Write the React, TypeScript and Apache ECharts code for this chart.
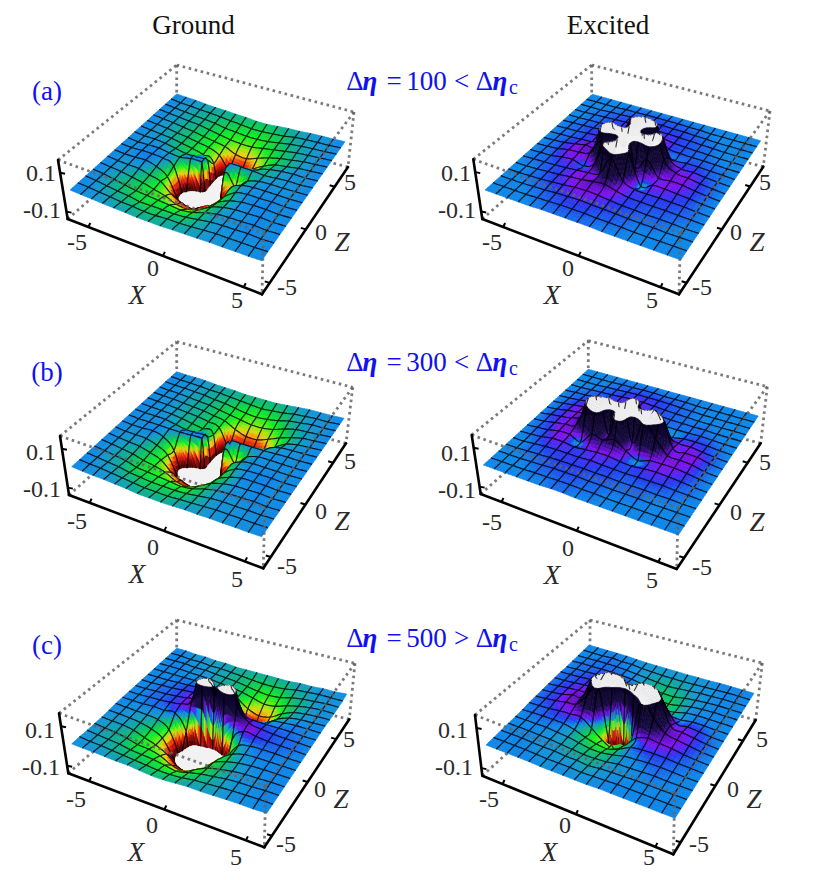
import React, { useEffect, useRef } from "react";
import * as echarts from "echarts";

// Heights in units of 0.01; rows run Z = +5 (back) to Z = -5 (front), columns X = -5 to +5.
// Values past +-16 lie beyond the clipped plot range, where the surface is capped.
const GROUND_A = [
[0,-.3,-.5,-1,-1.3,-1.5,-1.8,-2,-2.5,-2.5,-2,-1.5,-1.3,-.8,-.5,-.3,0],
[0,-.5,-.8,-1.2,-1.5,-2,-2.5,-3,-3.5,-3.5,-3,-2.5,-1.5,-1,-.7,-.5,0],
[0,-.5,-1,-1.5,-2,-2.5,-3.5,-4,-4.5,-4.5,-4,-3,-2,-1.3,-.8,-.5,0],
[0,-.5,-1,-1.5,-2,-3,-4,-5,-5.5,-5.5,-4.5,-3.5,-2.5,-1.5,-1,-.5,0],
[0,-.5,-1,-1.8,-2.5,-3.5,-4.5,-5.5,-8,-8.5,-6.5,-4.5,-3,-2,-1,-.5,0],
[0,-.5,-1,-1.8,-2.5,-3.5,-4.5,-7,-14,-13,-9,-5.5,-3,-2,-1,-.5,0],
[0,-.5,-1,-1.5,-2.5,-3.5,-5,-8,-50,-18,-10,-4,-2,-1,-.5,-.5,0],
[0,-.5,-.5,-1,-2,-3,-3,-3,-60,-1,-1,-1,-1.5,-1,-.5,-.5,0],
[0,-.5,-.3,-.3,-1,-1.5,-.5,-.5,-60,-3,-8,-3,-1,-.5,-.5,-.3,0],
[0,-.3,0,0,-.5,-3,-20,-80,-80,-22,-5.5,-1.5,-.5,-.3,-.3,-.3,0],
[0,-.3,-.3,0,-1.5,-5,-16,-25,-17,-13,-6,-1.5,-.3,-.3,0,-.3,0],
[0,-.5,-.8,-1,-2.5,-4,-9,-12,-13,-10,-5,-2,-.5,0,0,-.3,0],
[0,-.5,-1,-2,-3,-4.5,-6,-8.5,-9,-7,-3.5,-1.5,-.5,-.3,0,-.3,0],
[0,-.5,-1.5,-2.5,-3.5,-4,-4.5,-5,-5.5,-4.5,-2.5,-1,-.5,-.3,0,-.3,0],
[0,-.5,-1.2,-2,-2.5,-3.5,-3.5,-3.5,-3.5,-3,-2,-1,-.5,-.3,0,-.3,0],
[0,-.3,-.8,-1.2,-1.8,-2,-2.5,-2.5,-2,-2,-1.5,-1,-.5,-.5,-.3,-.3,0],
[0,-.3,-.5,-.8,-1,-1.2,-1.5,-1.5,-1.5,-1.2,-1,-.8,-.5,-.5,-.3,-.3,0],
];
const EXCITED_A = [
[0,0,0,0,0,0,0,0,0,0,0,0,0,0,0,0,0],
[0,0,0,0,.3,.3,.5,.5,.5,.5,.3,.3,0,0,0,0,0],
[0,0,0,.3,.5,.8,.8,1,1,.8,.8,.5,.3,0,0,0,0],
[0,0,.3,.5,.8,1,1.2,1.2,1.2,1.2,1,.8,.5,.3,0,0,0],
[0,0,.3,.5,1,1.2,1.5,1.8,2.5,2,1.2,.8,.5,.3,0,0,0],
[0,.3,.5,.8,1.2,1.5,2,4,10,6,1.5,.8,.5,.5,.3,0,0],
[0,.3,.5,1,1.5,2,5,15,30,24,3,.5,.8,.8,.5,.3,0],
[0,.3,.5,1,1.5,4,12,4,30,4,20,5,1.5,1.5,.8,.3,0],
[0,.3,.8,1.8,3,5,30,30,18,30,30,8,3,2.2,1.2,.5,0],
[0,.3,.8,2,2.5,4,12,4,30,4,10,2.2,2.5,2.2,1.2,.5,0],
[0,.3,.5,1.5,2,.5,4,20,30,15,-.5,2,2,1.5,1,.3,0],
[0,.3,.5,.8,1.2,1.8,2.5,4,14,4,1.5,1.2,1.2,1,.8,.3,0],
[0,0,.3,.8,1.2,2,2.5,3.5,4,2.5,1.2,1,.8,.8,.5,.3,0],
[0,0,.3,.5,1,1.5,2.2,2.5,2.2,1.5,1,.8,.5,.5,.3,0,0],
[0,0,0,.3,.5,1,1.2,1.5,1.2,1,.8,.5,.3,.3,0,0,0],
[0,0,0,0,.3,.5,.8,.8,.8,.5,.5,.3,0,0,0,0,0],
[0,0,0,0,0,.3,.3,.3,.3,.3,0,0,0,0,0,0,0],
];
const GROUND_B = [
[0,-.3,-.3,-.5,-1,-1.3,-1.5,-2,-2,-2,-2,-1.5,-1,-.5,-.5,-.3,0],
[0,-.3,-.5,-.8,-1.2,-1.5,-2,-2.5,-3,-3.5,-3,-2.5,-1.5,-1,-.5,-.5,0],
[0,-.3,-.5,-.8,-1.2,-2,-2.5,-3.5,-4.5,-5,-4.5,-3.5,-2,-1.3,-.5,-.5,0],
[0,-.3,-.5,-1,-1.5,-2,-3,-4,-5,-6,-6,-5,-3,-1.5,-1,-.5,0],
[0,-.3,-.5,-1,-1.5,-2,-3,-4,-7,-9,-9,-7,-4.5,-2.5,-1,-.5,0],
[0,-.3,-.5,-1,-1.5,-2,-3,-4.5,-15,-15,-13,-10,-6,-2.5,-1,-.5,0],
[0,-.3,-.5,-.8,-1.5,-2.5,-3.5,-5,-50,-26,-18,-9,-3,-1,-.5,-.3,0],
[0,-.3,-.3,-.5,-1.5,-2.5,-2.5,-3,-60,-3,-1,-.8,-.8,-.5,-.3,-.3,0],
[0,-.3,-.3,-.3,-.5,-.5,-.3,-.3,-60,-3,-8,-2.5,-.5,-.3,-.3,-.3,0],
[0,-.3,-.3,0,-1.5,-7,-24,-80,-80,-24,-6,-1.5,-.3,-.3,-.3,-.3,0],
[0,-.5,-.5,-.8,-2.5,-6,-17,-30,-20,-15,-6,-1.5,-.3,0,0,-.3,0],
[0,-.5,-1,-1.5,-3,-5,-10,-13,-14,-11,-5,-2,-.3,0,0,-.3,0],
[0,-.5,-1.2,-2,-3.5,-4.5,-6,-9,-9.5,-7,-3.5,-1.5,-.5,-.3,0,-.3,0],
[0,-.5,-1.2,-2,-3.5,-4,-4.5,-5,-5.5,-4.5,-2.5,-1,-.5,-.3,0,-.3,0],
[0,-.5,-1,-1.5,-2.5,-3,-3.5,-3.5,-3.5,-3,-2,-1,-.5,-.5,-.3,-.3,0],
[0,-.3,-.5,-1,-1.5,-2,-2.5,-2.5,-2.5,-2,-1.5,-1,-.5,-.5,-.3,-.3,0],
[0,-.3,-.5,-.5,-.8,-1,-1.5,-1.5,-1.5,-1.2,-.8,-.8,-.5,-.5,-.3,-.3,0],
];
const EXCITED_B = [
[0,0,0,0,0,0,0,0,0,0,0,0,0,0,0,0,0],
[0,0,0,0,.3,.3,.5,.5,.3,.3,.3,0,0,0,0,0,0],
[0,0,0,.3,.5,.8,1,1,1,.8,.5,.3,0,0,0,0,0],
[0,0,.3,.5,.8,1.2,1.5,1.5,1.2,.8,.5,.3,0,0,0,0,0],
[0,.3,.5,.8,1.2,1.5,1.8,1.8,1.2,.8,.5,.3,.3,.3,0,0,0],
[0,.3,.8,1.5,2,2.2,2.2,2.2,1.8,.8,.3,.3,.3,.5,.3,0,0],
[0,.5,1.2,2,2.5,3,3.5,3.5,8,1,0,-.3,.8,1,.8,.3,0],
[0,.5,1.5,2.2,3,5,12,4,30,4,16,5,2,2,1.2,.5,0],
[0,.8,1.5,2.5,6,24,30,30,17,30,30,20,3,2.5,2.2,.8,0],
[0,.5,1.5,2.5,4,16.5,25,4,30,4,17,10,3,2.5,2,.5,0],
[0,.5,1,2.2,2.2,0,6,5,7,3,0,2,2.2,2.2,1.5,.5,0],
[0,.3,.8,1.8,1.8,1,1.5,2,2,1.2,.8,1.5,1.8,1.5,1,.3,0],
[0,0,.5,1,1.2,1.2,1.2,1.5,1.2,1,.8,1,1,1,.5,.3,0],
[0,0,.3,.5,.8,1,1,1,.8,.8,.5,.5,.5,.3,.3,0,0],
[0,0,0,.3,.5,.8,.8,.8,.5,.5,.3,.3,.3,0,0,0,0],
[0,0,0,0,.3,.3,.5,.5,.3,.3,0,0,0,0,0,0,0],
[0,0,0,0,0,0,.3,.3,0,0,0,0,0,0,0,0,0],
];
const GROUND_C = [
[0,0,-.5,-.5,-1,-1,-1.5,-1.5,-1.5,-1.5,-1.5,-1.5,-1,-1,-.5,-.5,0],
[0,0,-.5,-.5,-1,-1,-1.5,-2,-2.5,-3,-3,-2.5,-1.5,-1,-.5,-.5,-.5],
[0,0,0,-.5,-.5,-1,-1.5,-2,-3,-4,-4.5,-4,-2.5,-1.5,-1,-.5,-.5],
[0,0,0,-.3,-.5,-.8,-1.5,-2,-3,-4.5,-6,-5.5,-3.5,-2,-1,-.5,-.5],
[0,0,0,0,0,-.3,-.8,-1.5,-3,-7,-9,-8,-4.5,-2,-1,-.5,-.3],
[0,0,0,.3,.5,.8,.8,0,-3,-12,-13,-9,-4,-1.5,-.5,-.3,0],
[0,0,.3,.5,1,1.5,2,3,1,-5,-14,-6,-1.5,-.5,0,0,0],
[0,0,.3,.5,1,1.8,4,14,6,14,2,.5,.3,.3,.3,0,0],
[0,0,.3,.5,1,2,6,30,12,30,10,3,1.5,.8,.5,.3,0],
[0,0,0,.3,0,.3,-8,-80,-80,-35,-5,2,1.5,.8,.5,.3,0],
[0,-.3,-.5,-.8,-1.5,-5,-18,-60,-60,-45,-12,-2,0,.3,.3,0,0],
[-.3,-.5,-.8,-1.5,-3,-6,-15,-25,-22,-16,-7,-2.5,-.5,0,0,0,0],
[-.5,-.8,-1,-2,-4,-6,-9,-14,-15,-11,-5,-2.5,-1,-.3,0,0,0],
[-.5,-1,-1.5,-2.5,-4,-4.5,-6,-9,-10,-7,-4,-2.5,-1.2,-.5,-.3,0,0],
[-.5,-1,-1.5,-2,-3,-3.5,-4,-5,-6,-4.5,-3,-2,-1,-.5,-.3,0,0],
[-.3,-.8,-1,-1.5,-2,-2.5,-3,-3.5,-3.5,-3,-2,-1.5,-1,-.5,-.3,0,0],
[-.3,-.5,-.5,-.8,-1,-1,-1.5,-2,-2,-1.5,-1,-1,-.8,-.5,-.3,-.3,0],
];
const EXCITED_C = [
[0,0,0,0,0,-.3,-.5,-.5,-.5,-.5,-.5,-.3,-.3,0,0,0,0],
[0,0,0,.3,0,0,-.5,-.8,-1,-1,-1,-.8,-.5,-.3,0,0,0],
[0,0,.3,.3,.3,0,-.5,-1,-1.5,-2,-1.5,-1,-.5,-.3,0,0,0],
[0,.3,.3,.5,.5,.3,0,-.8,-2,-2.5,-2.5,-1.5,-.8,-.3,0,0,0],
[0,.3,.5,.8,1,1,.8,0,-1.5,-2.5,-3,-2,-.8,-.3,0,0,0],
[.3,.5,.8,1.2,1.5,2,2,1.5,.5,-1,-2.5,-2,-.5,0,0,0,0],
[.3,.5,1,1.5,2,2.5,5,5,5,5,3,0,-.5,.3,.3,0,0],
[.3,.8,1.5,2,3,10,20,20,10,20,20,10,1.5,1.5,1,.3,0],
[.3,.8,1.5,3,4,17,30,30,18,30,30,18,4,2.5,1.5,.5,0],
[.3,.8,1.5,2.5,3.5,10,17,-10,-100,-8,18,10,4,2.5,1.5,.5,0],
[.3,.5,.8,1.5,1.8,2,-2,-6.5,-9,-5,1,3,2.5,2,1,.3,0],
[0,.3,.5,.5,.3,-1,-3,-4.5,-5,-3,0,1,1.2,1,.5,.3,0],
[0,0,0,0,-.5,-1,-2,-3,-3,-2,-.5,0,.5,.5,.3,0,0],
[0,0,0,-.3,-.5,-1,-1.5,-2,-2,-1.5,-.5,-.3,0,.3,0,0,0],
[0,0,0,-.3,-.5,-.5,-1,-1,-1.5,-.8,-.5,-.3,0,0,0,0,0],
[0,0,0,0,-.3,-.5,-.5,-.5,-.8,-.5,-.3,0,0,0,0,0,0],
[0,0,0,0,0,-.3,-.3,-.3,-.3,-.3,0,0,0,0,0,0,0],
];

const COLUMN_TITLES = ["Ground", "Excited"];
const ROW_LABELS = ["(a)", "(b)", "(c)"];
const ETA_VALUES = ["100", "300", "500"];
const ETA_RELATIONS = ["<", "<", ">"];
const X_TICK_LABELS = ["-5", "0", "5"];
const Z_TICK_LABELS = ["-5", "0", "5"];
const H_TICK_LABELS = ["0.1", "-0.1"];

const CELLS = 16;
const LIMIT = 16;
const PX_PER_UNIT = 1.85;
const CAP_COLOR = "#f2f2f2";
const BLUE = "#1010f0";
const SERIF = "'Liberation Serif', 'Times New Roman', serif";

type P = [number, number];
type Panel = {
  grid: number[][];
  left: P; front: P; right: P; back: P;
  leftTop: P; backTop: P; rightTop: P; leftBottom: P; frontBottom: P; rightBottom: P;
  label: P;
};

const PANELS: Panel[] = [
  { grid: GROUND_A, left: [70, 190], front: [261.7, 260.7], right: [345, 141.7], back: [176.7, 94],
    leftTop: [58, 160], backTop: [176.7, 65], rightTop: [354, 112], leftBottom: [67.7, 219], frontBottom: [262, 294.3], rightBottom: [348, 167], label: [0, 0] },
  { grid: EXCITED_A, left: [485, 190], front: [680.7, 260], right: [760.7, 140.7], back: [592.3, 94.3],
    leftTop: [473.3, 159.3], backTop: [591.7, 65], rightTop: [770, 111], leftBottom: [482.3, 219], frontBottom: [679, 294.3], rightBottom: [763.3, 166.7], label: [415, 0] },
  { grid: GROUND_B, left: [71.7, 466.7], front: [261.7, 536.7], right: [344, 418.3], back: [176.7, 371.7],
    leftTop: [60, 436], backTop: [176.7, 341.7], rightTop: [352.7, 387.3], leftBottom: [69, 495], frontBottom: [263.3, 568.3], rightBottom: [346, 443.3], label: [0, 279] },
  { grid: EXCITED_B, left: [483.3, 465], front: [678.3, 535], right: [758.3, 416], back: [588.3, 369.3],
    leftTop: [471.7, 435], backTop: [588.3, 340.7], rightTop: [767.3, 386.7], leftBottom: [480.7, 494], frontBottom: [676.7, 569], rightBottom: [760.7, 443.3], label: [415, 280] },
  { grid: GROUND_C, left: [71.7, 743.3], front: [266.7, 813.3], right: [346.7, 694], back: [176.7, 648.3],
    leftTop: [59, 713.3], backTop: [176.7, 620], rightTop: [355, 663.3], leftBottom: [68.3, 773.3], frontBottom: [264.3, 847.3], rightBottom: [349.3, 719.3], label: [-1, 557] },
  { grid: EXCITED_C, left: [486, 745], front: [675, 818.3], right: [754, 693.3], back: [589, 645],
    leftTop: [475, 715], backTop: [590, 620], rightTop: [762.3, 663], leftBottom: [482.3, 775.7], frontBottom: [673.3, 854.3], rightBottom: [755.7, 720], label: [412, 557] },
];

// Height -> colour stops
const COLOR_STOPS: [number, number[]][] = [
  [-17, [16, 0, 0]],
  [-14.5, [90, 6, 6]],
  [-12, [205, 12, 12]],
  [-10, [240, 60, 12]],
  [-8, [240, 205, 16]],
  [-6.5, [160, 232, 16]],
  [-4.5, [16, 240, 32]],
  [-3, [14, 200, 90]],
  [-1.5, [14, 168, 160]],
  [-0.7, [20, 150, 208]],
  [0, [14, 134, 232]],
  [1, [36, 60, 240]],
  [2.2, [128, 16, 240]],
  [3.5, [84, 14, 180]],
  [6, [22, 10, 66]],
  [17, [10, 3, 32]],
];

function heightColor(h: number): string {
  if (h <= COLOR_STOPS[0][0]) h = COLOR_STOPS[0][0];
  for (let k = 1; k < COLOR_STOPS.length; k++) {
    const [h1, c1] = COLOR_STOPS[k];
    if (h <= h1) {
      const [h0, c0] = COLOR_STOPS[k - 1];
      const t = (h - h0) / (h1 - h0);
      return `rgb(${Math.round(c0[0] + (c1[0] - c0[0]) * t)},${Math.round(c0[1] + (c1[1] - c0[1]) * t)},${Math.round(c0[2] + (c1[2] - c0[2]) * t)})`;
    }
  }
  return "rgb(10,3,32)";
}

function homography(p0: P, p1: P, p2: P, p3: P) {
  const sx = p0[0] - p1[0] + p2[0] - p3[0];
  const sy = p0[1] - p1[1] + p2[1] - p3[1];
  const dx1 = p1[0] - p2[0], dx2 = p3[0] - p2[0], dy1 = p1[1] - p2[1], dy2 = p3[1] - p2[1];
  const den = dx1 * dy2 - dx2 * dy1;
  const g = (sx * dy2 - dx2 * sy) / den;
  const h = (dx1 * sy - sx * dy1) / den;
  const a = p1[0] - p0[0] + g * p1[0];
  const b = p3[0] - p0[0] + h * p3[0];
  const d = p1[1] - p0[1] + g * p1[1];
  const e = p3[1] - p0[1] + h * p3[1];
  return (u: number, v: number): P => {
    const w = g * u + h * v + 1;
    return [(a * u + b * v + p0[0]) / w, (d * u + e * v + p0[1]) / w];
  };
}

const cr = (a: number, b: number, c: number, d: number, t: number) =>
  0.5 * (2 * b + (c - a) * t + (2 * a - 5 * b + 4 * c - d) * t * t + (3 * b - a - 3 * c + d) * t * t * t);
const lim = (x: number) => Math.max(-35, Math.min(35, x));

function makeSampler(grid: number[][]) {
  const node = (i: number, j: number) => {
    const ii = Math.max(0, Math.min(CELLS, i));
    const jj = Math.max(0, Math.min(CELLS, j));
    return grid[CELLS - jj][ii] ?? 0;
  };
  const sample = (u: number, v: number) => {
    const i = Math.min(CELLS - 1, Math.floor(u));
    const j = Math.min(CELLS - 1, Math.floor(v));
    const tu = u - i, tv = v - j;
    const row = (jj: number) => cr(lim(node(i - 1, jj)), node(i, jj), node(i + 1, jj), lim(node(i + 2, jj)), tu);
    const value = cr(lim(row(j - 1)), row(j), row(j + 1), lim(row(j + 2)), tv);
    const c = [node(i, j), node(i + 1, j), node(i, j + 1), node(i + 1, j + 1)];
    return Math.max(Math.min(...c) - 0.3, Math.min(Math.max(...c) + 0.3, value));
  };
  return { node, sample };
}

type V3 = [number, number, number];
function clipPoly(poly: V3[], keep: number, sign: number): V3[] {
  const out: V3[] = [];
  for (let k = 0; k < poly.length; k++) {
    const a = poly[k], b = poly[(k + 1) % poly.length];
    const ia = sign * (a[2] - keep) >= 0, ib = sign * (b[2] - keep) >= 0;
    if (ia) out.push(a);
    if (ia !== ib) {
      const t = (keep - a[2]) / (b[2] - a[2]);
      out.push([a[0] + (b[0] - a[0]) * t, a[1] + (b[1] - a[1]) * t, keep]);
    }
  }
  return out;
}

function surfaceSeries(panel: Panel, index: number) {
  const map = homography(panel.left, panel.front, panel.right, panel.back);
  const { node, sample } = makeSampler(panel.grid);
  const data: number[][] = [];
  for (let j = CELLS - 1; j >= 0; j--) for (let i = 0; i < CELLS; i++) data.push([i, j]);

  const renderItem = (_: any, api: any) => {
    const i = api.value(0), j = api.value(1);
    const project = (p: V3) => {
      const q = map(p[0] / CELLS, p[1] / CELLS);
      return api.coord([q[0], q[1] - p[2] * PX_PER_UNIT]);
    };
    const rangeU = Math.max(Math.abs(node(i + 1, j) - node(i, j)), Math.abs(node(i + 1, j + 1) - node(i, j + 1)));
    const rangeV = Math.max(Math.abs(node(i, j + 1) - node(i, j)), Math.abs(node(i + 1, j + 1) - node(i + 1, j)));
    let near = 0;
    for (let a = -1; a <= 2; a++) for (let b = -1; b <= 2; b++) near = Math.max(near, Math.abs(node(i + a, j + b) - node(i, j)));
    const floorN = near > 8 ? 4 : 3;
    const nu = Math.max(floorN, Math.min(14, Math.ceil(rangeU / 2.5)));
    const nv = Math.max(floorN, Math.min(14, Math.ceil(rangeV / 2.5)));
    const children: any[] = [];
    const addPoly = (poly: V3[], fill: string) => {
      if (poly.length < 3) return;
      children.push({
        type: "polygon", silent: true,
        shape: { points: poly.map(project) },
        style: { fill, stroke: fill, lineWidth: 0.6 },
      });
    };
    for (let sv = nv - 1; sv >= 0; sv--) {
      for (let su = 0; su < nu; su++) {
        const u0 = i + su / nu, u1 = i + (su + 1) / nu, v0 = j + sv / nv, v1 = j + (sv + 1) / nv;
        const quad: V3[] = [[u0, v0, sample(u0, v0)], [u1, v0, sample(u1, v0)], [u1, v1, sample(u1, v1)], [u0, v1, sample(u0, v1)]];
        const hs = quad.map((q) => q[2]);
        const hi = Math.max(...hs), lo = Math.min(...hs);
        if (hi > LIMIT) addPoly(clipPoly(quad, LIMIT, 1).map((q) => [q[0], q[1], LIMIT] as V3), CAP_COLOR);
        if (lo < -LIMIT) addPoly(clipPoly(quad, -LIMIT, -1).map((q) => [q[0], q[1], -LIMIT] as V3), CAP_COLOR);
        const mid = clipPoly(clipPoly(quad, LIMIT, -1), -LIMIT, 1);
        if (mid.length >= 3) {
          const mean = mid.reduce((s, q) => s + q[2], 0) / mid.length;
          addPoly(mid, heightColor(mean));
        }
      }
    }
    const addEdge = (fu: (t: number) => number, fv: (t: number) => number) => {
      const steps = 14;
      let run: any[] = [];
      const flush = () => {
        if (run.length > 1) {
          children.push({
            type: "polyline", silent: true, shape: { points: run },
            style: { stroke: "rgba(0,0,0,0.8)", lineWidth: 1.1, fill: "none" },
          });
        }
        run = [];
      };
      let prev: V3 | null = null;
      for (let s = 0; s <= steps; s++) {
        const t = s / steps;
        const u = fu(t), v = fv(t);
        const cur: V3 = [u, v, sample(u, v)];
        const inside = Math.abs(cur[2]) <= LIMIT;
        if (prev) {
          const pIn = Math.abs(prev[2]) <= LIMIT;
          if (inside !== pIn) {
            const limit = (inside ? prev[2] : cur[2]) > 0 ? LIMIT : -LIMIT;
            const f = (limit - prev[2]) / (cur[2] - prev[2]);
            const hit: V3 = [prev[0] + (cur[0] - prev[0]) * f, prev[1] + (cur[1] - prev[1]) * f, limit];
            run.push(project(hit));
            if (pIn) flush();
          }
        }
        if (inside) run.push(project(cur));
        prev = cur;
      }
      flush();
    };
    if (j + 1 < CELLS) addEdge((t) => i + t, () => j + 1);
    if (j > 0) addEdge((t) => i + t, () => j);
    if (i > 0) addEdge(() => i, (t) => j + t);
    if (i + 1 < CELLS) addEdge(() => i + 1, (t) => j + t);
    return { type: "group", children };
  };

  return {
    type: "custom", name: `surface-${index}`, coordinateSystem: "cartesian2d",
    data, renderItem, clip: false, silent: true, z: 2,
    dimensions: ["i", "j"],
    encode: { x: 0, y: 1 },
  };
}

const DOT = { stroke: "rgba(100,100,100,0.85)", lineWidth: 2.8, lineDash: [2.6, 3.6] };
const lerp = (a: P, b: P, t: number): P => [a[0] + (b[0] - a[0]) * t, a[1] + (b[1] - a[1]) * t];
const frontTop = (p: Panel): P => [p.frontBottom[0] + 1.5, p.frontBottom[1] - 61];
const backBottom = (p: Panel): P => [p.backTop[0], p.backTop[1] + 58];

const X_TICK_FRACTIONS = [0.106, 0.49, 0.906];
const Z_TICK_FRACTIONS = [0.09, 0.51, 0.845];
const H_TICK_FRACTIONS = [0.215, 0.875];

function backFrameSeries() {
  return {
    type: "custom", name: "frame-back", coordinateSystem: "cartesian2d", clip: false, silent: true, z: 1,
    data: PANELS.map((_, k) => [k, 0]),
    renderItem: (_: any, api: any) => {
      const p = PANELS[api.value(0)];
      const line = (a: P, b: P) => ({
        type: "line", silent: true,
        shape: { x1: api.coord(a)[0], y1: api.coord(a)[1], x2: api.coord(b)[0], y2: api.coord(b)[1] },
        style: DOT,
      });
      const bb = backBottom(p);
      return { type: "group", children: [
        line(p.leftTop, p.backTop), line(p.backTop, p.rightTop), line(p.backTop, bb),
        line(p.leftBottom, bb), line(p.rightBottom, bb),
      ] };
    },
  };
}

function frontFrameSeries() {
  return {
    type: "custom", name: "frame-front", coordinateSystem: "cartesian2d", clip: false, silent: true, z: 3,
    data: PANELS.map((_, k) => [k, 0]),
    renderItem: (_: any, api: any) => {
      const p = PANELS[api.value(0)];
      const ft = frontTop(p);
      const line = (a: P, b: P, style: any) => ({
        type: "line", silent: true,
        shape: { x1: api.coord(a)[0], y1: api.coord(a)[1], x2: api.coord(b)[0], y2: api.coord(b)[1] },
        style,
      });
      const AXIS = { stroke: "#000", lineWidth: 2.6, lineCap: "round" };
      const TICK = { stroke: "#000", lineWidth: 2 };
      const children: any[] = [
        line(p.leftTop, ft, DOT), line(p.rightTop, ft, DOT), line(ft, p.frontBottom, DOT), line(p.rightTop, p.rightBottom, DOT),
        line(p.leftTop, p.leftBottom, AXIS), line(p.leftBottom, p.frontBottom, AXIS), line(p.frontBottom, p.rightBottom, AXIS),
      ];
      X_TICK_FRACTIONS.forEach((f) => {
        const a = lerp(p.leftBottom, p.frontBottom, f);
        children.push(line(a, [a[0] + 2, a[1] - 4], TICK));
      });
      Z_TICK_FRACTIONS.forEach((f) => {
        const a = lerp(p.frontBottom, p.rightBottom, f);
        children.push(line(a, [a[0] - 5, a[1] - 1.5], TICK));
      });
      H_TICK_FRACTIONS.forEach((f) => {
        const a = lerp(p.leftTop, p.leftBottom, f);
        children.push(line(a, [a[0] + 5, a[1] + 1], TICK));
      });
      return { type: "group", children };
    },
  };
}

function textEl(text: string, x: number, y: number, size: number, fill: string, extra: any = {}) {
  return {
    type: "text", x, y, silent: true,
    style: { text, fontFamily: SERIF, fontSize: size, fill, align: "center", verticalAlign: "middle", ...extra },
  };
}

function buildGraphics() {
  const g: any[] = [];
  g.push(textEl(COLUMN_TITLES[0], 193.5, 25, 27, "#111"));
  g.push(textEl(COLUMN_TITLES[1], 608, 25, 27, "#111"));
  const labelYs = [91, 372, 645];
  const formulaYs = [81, 362, 638];
  ROW_LABELS.forEach((t, k) => {
    g.push(textEl(t, 47, labelYs[k], 27, BLUE));
    const y = formulaYs[k];
    const ital = { fontStyle: "italic", fontWeight: "bold" };
    g.push(textEl("Δ", 355, y, 27, BLUE));
    g.push(textEl("η", 370, y, 27, BLUE, ital));
    g.push(textEl("=", 394, y, 27, BLUE));
    g.push(textEl(ETA_VALUES[k], 426.5, y, 27, BLUE));
    g.push(textEl(ETA_RELATIONS[k], 461.5, y, 27, BLUE));
    g.push(textEl("Δ", 484.5, y, 27, BLUE));
    g.push(textEl("η", 500, y, 27, BLUE, ital));
    g.push(textEl("c", 513.5, y + 6, 20, BLUE));
  });
  const TICK_COLOR = "#2a2a2a";
  PANELS.forEach((p) => {
    const [dx, dy] = p.label;
    const xPos: P[] = [[77, 242], [153, 268], [237, 300]];
    const zPos: P[] = [[287, 287], [321, 232], [350, 182]];
    const hPos: P[] = [[41, 173], [42, 210]];
    X_TICK_LABELS.forEach((t, k) => g.push(textEl(t, xPos[k][0] + dx, xPos[k][1] + dy, 24, TICK_COLOR)));
    Z_TICK_LABELS.forEach((t, k) => g.push(textEl(t, zPos[k][0] + dx, zPos[k][1] + dy, 24, TICK_COLOR)));
    H_TICK_LABELS.forEach((t, k) => g.push(textEl(t, hPos[k][0] + dx, hPos[k][1] + dy, 24, TICK_COLOR)));
    g.push(textEl("X", 137 + dx, 295 + dy, 27, TICK_COLOR, { fontStyle: "italic" }));
    g.push(textEl("Z", 342 + dx, 242 + dy, 27, TICK_COLOR, { fontStyle: "italic" }));
  });
  return g;
}

export default function App() {
  const ref = useRef<HTMLDivElement>(null);
  useEffect(() => {
    const chart = echarts.init(ref.current!, undefined, { renderer: "svg", width: 818, height: 880 });
    chart.setOption({
      animation: false,
      backgroundColor: "#fff",
      grid: { left: 0, right: 0, top: 0, bottom: 0 },
      xAxis: { type: "value", min: 0, max: 818, show: false },
      yAxis: { type: "value", min: 0, max: 880, inverse: true, show: false },
      tooltip: { show: false },
      series: [backFrameSeries(), ...PANELS.map(surfaceSeries), frontFrameSeries()],
      graphic: buildGraphics(),
    });
    return () => chart.dispose();
  }, []);
  return <div ref={ref} style={{ position: "absolute", left: 0, top: 0, width: 818, height: 880 }} />;
}
